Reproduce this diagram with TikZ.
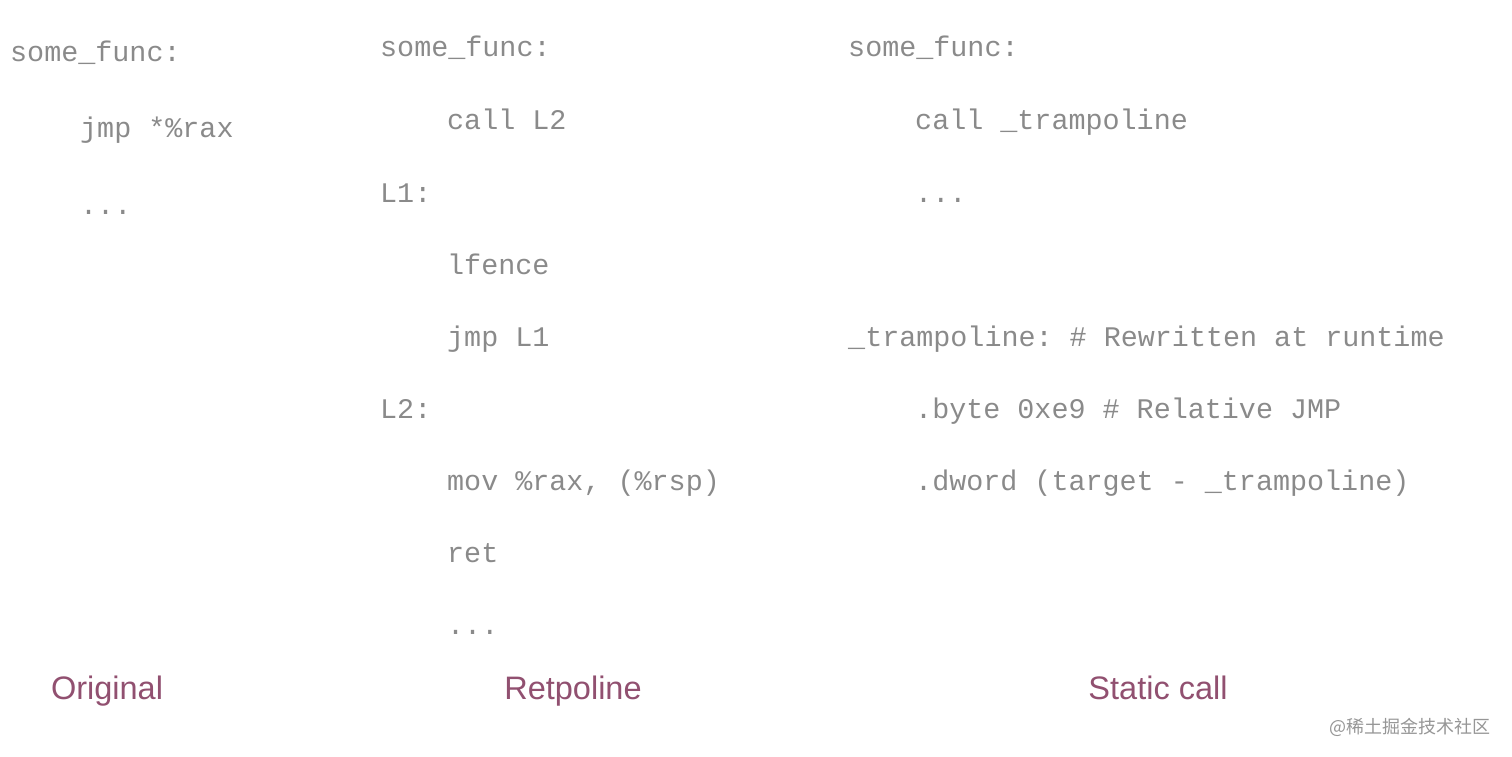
\documentclass[tikz,border=0pt]{standalone}
\usepackage{fontspec}
\setmonofont{Liberation Mono}
\setsansfont{Liberation Sans}
\newfontfamily\cjkfont{Noto Sans CJK SC}
\definecolor{codegray}{RGB}{138,138,138}
\definecolor{labelmauve}{RGB}{145,80,112}
\definecolor{markgray}{RGB}{150,150,150}
\begin{document}
\begin{tikzpicture}[x=1pt,y=-1pt]

    % Define node styles
    \tikzstyle{code_line} = [anchor=base west, inner sep=0pt, text=codegray, font=\ttfamily\fontsize{28.4}{30}\selectfont]
    \tikzstyle{column_label} = [anchor=base, inner sep=0pt, text=labelmauve, font=\sffamily\fontsize{32.5}{34}\selectfont]
    \tikzstyle{watermark} = [anchor=base east, inner sep=0pt, text=markgray, font=\cjkfont\fontsize{18}{20}\selectfont]

    \useasboundingbox (0,0) rectangle (1512,757);

    % Original
    \node [code_line] (orig_func) at (10,62) {some\_func:};
    \node [code_line] (orig_jmp) at (80,138) {jmp *\%rax};
    \node [code_line] (orig_dots) at (80,214) {...};

    % Retpoline
    \node [code_line] (ret_func) at (380,57) {some\_func:};
    \node [code_line] (ret_call) at (447,130) {call L2};
    \node [code_line] (ret_l1) at (380,202) {L1:};
    \node [code_line] (ret_lfence) at (447,274) {lfence};
    \node [code_line] (ret_jmp) at (447,346) {jmp L1};
    \node [code_line] (ret_l2) at (380,418) {L2:};
    \node [code_line] (ret_mov) at (447,490) {mov \%rax, (\%rsp)};
    \node [code_line] (ret_ret) at (447,562) {ret};
    \node [code_line] (ret_dots) at (447,634) {...};

    % Static call
    \node [code_line] (static_func) at (848,57) {some\_func:};
    \node [code_line] (static_call) at (915,130) {call \_trampoline};
    \node [code_line] (static_dots) at (915,202) {...};
    \node [code_line] (static_tramp) at (848,346) {\_trampoline: \# Rewritten at runtime};
    \node [code_line] (static_byte) at (915,418) {.byte 0xe9 \# Relative JMP};
    \node [code_line] (static_dword) at (915,490) {.dword (target - \_trampoline)};

    % Column labels
    \node [column_label] (label_orig) at (107,699) {Original};
    \node [column_label] (label_ret) at (573,699) {Retpoline};
    \node [column_label] (label_static) at (1158,699) {Static call};

    \node [watermark] (mark) at (1491,733) {@稀土掘金技术社区};
\end{tikzpicture}
\end{document}
